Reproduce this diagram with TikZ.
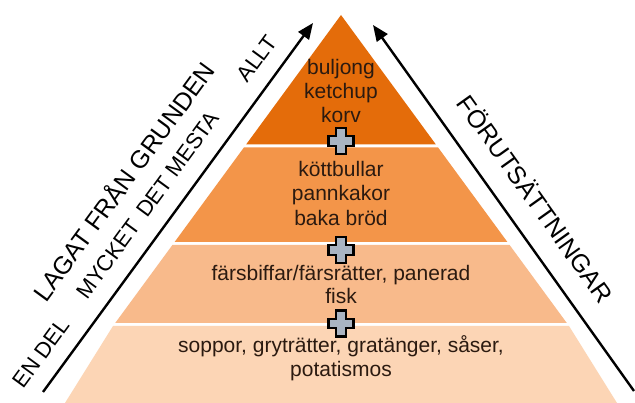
\documentclass[tikz,border=0pt]{standalone}
\usepackage{fontspec}
\setmainfont{Liberation Sans}
\usetikzlibrary{arrows.meta}
\definecolor{bandA}{HTML}{E46C0A}
\definecolor{bandB}{HTML}{F39549}
\definecolor{bandC}{HTML}{F8BA8B}
\definecolor{bandD}{HTML}{FCD5B5}
\definecolor{plusfill}{HTML}{A9B4C2}
\definecolor{txt}{HTML}{2B1A10}
\begin{document}
\begin{tikzpicture}[x=1pt,y=-1pt,
  band/.style={fill=#1,draw=none},
  food/.style={font=\fontsize{21}{24}\selectfont, text=txt, anchor=base, inner sep=0pt},
  axislbl/.style={font=\fontsize{22}{26}\selectfont, anchor=base, inner sep=0pt},
  bigaxis/.style={font=\fontsize{25}{30}\selectfont, anchor=base, inner sep=0pt},
  axisarrow/.style={draw=black, line width=2.4pt, -{Triangle[length=16pt,width=13pt]}},
  plusicon/.pic={\path[fill=plusfill,draw=black,line width=2.2pt,line join=miter]
    (-4.8,-13) -- (4.8,-13) -- (4.8,-4.8) -- (12.5,-4.8) -- (12.5,4.8) -- (4.8,4.8)
    -- (4.8,13) -- (-4.8,13) -- (-4.8,4.8) -- (-12.5,4.8) -- (-12.5,-4.8) -- (-4.8,-4.8) -- cycle;}
]
\useasboundingbox (0,0) rectangle (635,403);
\fill[white] (0,0) rectangle (635,403);

% pyramid bands
\path[band=bandA] (341,15) -- (435.9,144.5) -- (246.1,144.5) -- cycle;
\path[band=bandB] (243.9,147.5) -- (438.1,147.5) -- (507.4,242) -- (174.6,242) -- cycle;
\path[band=bandC] (172.4,245) -- (509.6,245) -- (566.8,323) -- (115.2,323) -- cycle;
\path[band=bandD] (113,326) -- (569,326) -- (617,403) -- (65,403) -- cycle;

% food texts
\node[food] (t1a) at (341,75) {buljong};
\node[food] (t1b) at (341,99) {ketchup};
\node[food] (t1c) at (341,123) {korv};
\node[food] (t2a) at (341,177) {köttbullar};
\node[food] (t2b) at (341,201) {pannkakor};
\node[food] (t2c) at (341,226) {baka bröd};
\node[food] (t3a) at (341,281) {färsbiffar/färsrätter, panerad};
\node[food] (t3b) at (341,304) {fisk};
\node[food] (t4a) at (341,353) {soppor, gryträtter, gratänger, såser,};
\node[food] (t4b) at (341,377) {potatismos};

% plus icons
\pic (p1) at (341,141) {plusicon};
\pic (p2) at (341,250) {plusicon};
\pic (p3) at (341,323.5) {plusicon};

% axes
\coordinate (L0) at (43,392);
\coordinate (L1) at (313,23);
\coordinate (R0) at (634,391);
\coordinate (R1) at (373,25);
\draw[axisarrow] (L0) -- (L1);
\draw[axisarrow] (R0) -- (R1);

% axis labels
\node[axislbl, rotate=53.8] (enDel) at (47.4,357.7) {EN DEL};
\node[axislbl, rotate=53.8] (mycket) at (153.9,209.7) {MYCKET\, DET MESTA};
\node[axislbl, rotate=53.8] (allt) at (262.9,63.2) {ALLT};
\node[bigaxis, rotate=53.8] (lagat) at (131.2,186.8) {LAGAT FRÅN GRUNDEN};
\node[bigaxis, rotate=-54.5] (forut) at (527.7,204.2) {FÖRUTSÄTTNINGAR};
\end{tikzpicture}
\end{document}
